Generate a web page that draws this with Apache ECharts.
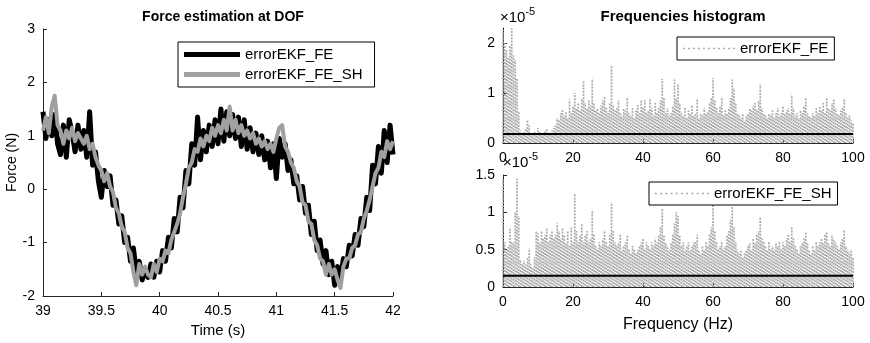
<!DOCTYPE html>
<html>
<head>
<meta charset="utf-8">
<script src="https://cdn.jsdelivr.net/npm/echarts@6/dist/echarts.min.js"></script>
<style>
  html, body { margin: 0; padding: 0; background: #fff; }
  #chart { width: 870px; height: 343px; }
</style>
</head>
<body>
<div id="chart"></div>
<script>
// left plot: force estimate, sampled every 0.025 s from 39 s
const timeStart = 39;
const timeStep = 0.025;
const forceFE = [
  1.45, 0.95, 1.3, 1.0, 1.4, 0.85, 0.65, 1.2, 0.6, 1.3,
  1.05, 0.7, 1.2, 0.75, 1.1, 0.6, 1.45, 0.45, 0.7, 0.15,
  -0.15, 0.35, 0.05, 0.25, -0.3, -0.2, -0.65, -0.5, -1.0, -0.9,
  -1.35, -1.1, -1.55, -1.35, -1.7, -1.5, -1.65, -1.4, -1.65, -1.35,
  -1.55, -1.15, -1.35, -0.9, -1.1, -0.55, -0.8, -0.15, -0.35, 0.35,
  0.1, 0.85, 0.45, 1.35, 0.55, 1.1, 0.7, 1.2, 0.8, 1.3,
  0.85, 1.5, 0.9, 1.45, 1.0, 1.4, 0.95, 1.35, 0.8, 1.3,
  0.75, 1.15, 0.7, 1.05, 0.65, 1.0, 0.55, 0.9, 0.4, 0.85,
  0.2, 0.95, 0.6, 0.85, 0.35, 0.55, 0.1, 0.25, -0.2, 0.05,
  -0.45, -0.3, -0.85, -0.6, -1.15, -0.95, -1.4, -1.15, -1.6, -1.35,
  -1.8, -1.45, -1.65, -1.3, -1.45, -1.05, -1.25, -0.85, -1.05, -0.55,
  -0.7, -0.15, -0.4, 0.45, 0.1, 0.8, 0.3, 1.1, 0.5, 1.2,
  0.65
];
const forceFESH = [
  1.1, 1.35, 1.05, 1.55, 1.75, 1.2, 1.1, 0.85, 1.1, 0.95,
  1.15, 0.9, 1.05, 0.95, 0.85, 1.0, 0.75, 0.85, 0.6, 0.45,
  0.35, 0.15, 0.3, 0.05, -0.05, -0.35, -0.45, -0.7, -0.8, -1.1,
  -1.2, -1.55, -1.8, -1.4, -1.6, -1.45, -1.6, -1.65, -1.4, -1.55,
  -1.3, -1.35, -1.15, -1.2, -0.95, -0.8, -0.65, -0.45, -0.15, 0.1,
  0.4, 0.5, 0.75, 0.7, 0.95, 0.8, 1.0, 0.9, 1.15, 1.0,
  1.2, 1.05, 1.3, 1.1, 1.55, 1.1, 1.3, 1.05, 1.2, 1.0,
  1.1, 0.95, 1.05, 0.85, 0.95, 0.8, 0.9, 0.75, 0.85, 0.7,
  0.95, 1.15, 1.2, 0.8, 0.7, 0.5, 0.4, 0.15, 0.05, -0.25,
  -0.3, -0.6, -0.65, -0.95, -1.05, -1.3, -1.35, -1.6, -1.4, -1.6,
  -1.5, -1.7, -1.85, -1.45, -1.3, -1.3, -1.1, -1.05, -0.85, -0.8,
  -0.55, -0.4, -0.2, 0.05, 0.3, 0.4, 0.7, 0.6, 0.9, 0.75,
  0.9
];

// right plots: spectrum peak per 0.5 Hz bin, in units of 1e-5
const freqStep = 0.5;
const specFE = [
  2.26, 2.0, 1.85, 1.7, 1.95, 2.3, 1.75, 1.66, 1.3, 0.63,
  0.25, 0.2, 0.22, 0.3, 0.46, 0.35, 0.2, 0.18, 0.22, 0.15,
  0.3, 0.22, 0.2, 0.18, 0.25, 0.3, 0.22, 0.2, 0.25, 0.3,
  0.35, 0.5, 0.45, 0.6, 0.66, 0.55, 0.62, 0.5, 0.87, 0.6,
  0.75, 1.0, 0.7, 0.8, 0.65, 0.9, 1.23, 0.8, 0.7, 0.85,
  0.75, 1.29, 0.8, 0.65, 0.7, 0.6, 0.75, 0.85, 0.93, 0.7,
  0.6, 0.8, 1.55, 0.75, 0.65, 0.7, 0.85, 0.6, 0.55, 0.7,
  0.65, 0.9, 0.6, 0.55, 0.7, 0.5, 0.65, 0.76, 0.6, 0.87,
  0.7, 0.86, 0.6, 0.65, 0.9, 0.7, 0.55, 0.8, 0.6, 0.7,
  0.85, 1.28, 0.9, 0.6, 0.7, 0.55, 0.6, 0.75, 1.27, 0.9,
  1.17, 0.8, 0.6, 0.55, 0.7, 0.5, 0.65, 0.6, 0.75, 0.55,
  0.6, 0.87, 0.5, 0.6, 0.55, 0.7, 0.6, 0.65, 0.8, 0.9,
  1.3, 0.85, 0.7, 0.6, 0.75, 0.9, 0.55, 0.65, 0.6, 0.7,
  0.9, 1.27, 1.1, 0.8, 0.6, 0.55, 0.5, 0.6, 0.45, 0.55,
  0.6, 0.7, 0.65, 0.75, 0.8, 0.65, 0.85, 1.17, 0.7, 0.6,
  0.55, 0.5, 0.6, 0.55, 0.65, 0.5, 0.6, 0.7, 0.55, 0.6,
  0.75, 0.6, 0.65, 0.7, 0.6, 0.97, 0.7, 0.55, 0.6, 0.5,
  0.65, 0.6, 0.75, 0.91, 0.6, 0.55, 0.5, 0.6, 0.55, 0.7,
  0.6, 0.75, 0.65, 0.8, 0.6, 0.9, 0.7, 0.65, 0.8, 0.87,
  0.7, 0.6, 0.55, 0.65, 0.7, 0.9, 0.6, 0.5, 0.55, 0.45,
  0.4
];
const specFESH = [
  1.45, 0.6, 0.5, 0.55, 0.78, 0.6, 0.6, 1.0, 1.45, 0.95,
  0.36, 0.3, 0.35, 0.3, 0.4, 0.52, 0.3, 0.25, 0.4, 0.74,
  0.72, 0.6, 0.75, 0.65, 0.7, 0.78, 0.6, 0.7, 0.75, 0.65,
  0.7, 0.85, 0.75, 0.65, 0.8, 0.7, 0.6, 0.75, 0.55, 0.8,
  0.6, 1.25, 0.75, 0.6, 0.7, 0.85, 0.6, 0.7, 0.75, 0.6,
  0.65, 1.03, 0.7, 0.55, 0.5, 0.6, 0.55, 0.65, 0.76, 0.6,
  0.55, 0.7, 1.14, 0.75, 0.6, 0.55, 0.6, 0.7, 0.5, 0.55,
  0.6, 0.7, 0.5, 0.45, 0.55, 0.5, 0.45, 0.5, 0.55, 0.6,
  0.65, 0.5, 0.6, 0.55, 0.5, 0.6, 0.55, 0.65, 0.6, 0.7,
  0.8, 1.05, 0.7, 0.6, 0.55, 0.5, 0.6, 0.7, 0.85, 1.0,
  0.95, 0.7, 0.55, 0.6, 0.5, 0.55, 0.6, 0.5, 0.55, 0.6,
  0.6, 0.7, 0.5, 0.45, 0.55, 0.5, 0.6, 0.55, 0.7, 0.8,
  1.1, 0.75, 0.6, 0.5, 0.55, 0.6, 0.5, 0.55, 0.7, 0.75,
  0.9, 1.07, 0.8, 0.6, 0.5, 0.45, 0.5, 0.4, 0.45, 0.5,
  0.55, 0.6, 0.5, 0.65, 0.6, 0.7, 0.75, 0.94, 0.65, 0.6,
  0.55, 0.5, 0.6, 0.5, 0.55, 0.5, 0.6, 0.55, 0.6, 0.5,
  0.6, 0.55, 0.65, 0.7, 0.6, 0.8, 0.65, 0.55, 0.5, 0.45,
  0.55, 0.6, 0.65, 0.74, 0.6, 0.5, 0.45, 0.55, 0.5, 0.6,
  0.55, 0.6, 0.65, 0.6, 0.7, 0.74, 0.6, 0.55, 0.7, 0.65,
  0.6, 0.55, 0.5, 0.6, 0.65, 0.76, 0.55, 0.5, 0.45, 0.5,
  0.4
];
const meanFE = 0.18;
const meanFESH = 0.15;
const freqRange = [0, 100];

const FONT = "'Liberation Sans', Arial, sans-serif";
const GRAY = "#a0a0a0";
const STEM_GRAY = "#a8a8a8";

const withTime = (arr) => arr.map((v, i) => [+(timeStart + i * timeStep).toFixed(3), v]);
const withFreq = (arr) => arr.map((v, i) => [i * freqStep, v]);

// dotted vertical stroke per bin, like matlab's ':' over a dense spectrum
function dottedStem(params, api) {
  const f = api.value(0);
  const v = api.value(1);
  const a = api.coord([f, 0]);
  const b = api.coord([f, v]);
  return {
    type: "line",
    shape: { x1: a[0], y1: a[1], x2: b[0], y2: b[1] },
    style: {
      stroke: STEM_GRAY, lineWidth: 1.7,
      lineDash: [2, 1.2], lineDashOffset: (params.dataIndex % 3),
    },
  };
}

const axisCommon = {
  axisLine: { onZero: false, lineStyle: { color: "#262626", width: 1 } },
  axisTick: { inside: true, length: 4, lineStyle: { color: "#262626" } },
  axisLabel: { color: "#000", fontSize: 14, fontFamily: FONT },
  splitLine: { show: false },
};

const dotIcon = "path://M0,0h1v1h-1zM3,0h1v1h-1zM6,0h1v1h-1zM9,0h1v1h-1zM12,0h1v1h-1zM15,0h1v1h-1zM18,0h1v1h-1zM21,0h1v1h-1zM24,0h1v1h-1zM27,0h1v1h-1zM30,0h1v1h-1z";

const chart = echarts.init(document.getElementById("chart"), null, { renderer: "canvas" });

chart.setOption({
  backgroundColor: "#fff",
  animation: false,
  textStyle: { fontFamily: FONT },
  title: [
    {
      text: "Force estimation at DOF",
      left: 218, top: 5, textAlign: "center",
      textStyle: { fontSize: 14, fontWeight: "bold", color: "#000", fontFamily: FONT },
    },
    {
      text: "Frequencies histogram",
      left: 678, top: 4, textAlign: "center",
      textStyle: { fontSize: 15, fontWeight: "bold", color: "#000", fontFamily: FONT },
    },
  ],
  legend: [
    {
      data: [
        { name: "errorEKF_FE", icon: "rect", itemStyle: { color: "#000" } },
        { name: "errorEKF_FE_SH", icon: "rect", itemStyle: { color: GRAY } },
      ],
      orient: "vertical",
      left: 178, top: 42,
      width: 190,
      padding: [5, 12, 5, 6],
      itemGap: 5,
      itemWidth: 56, itemHeight: 5,
      borderColor: "#000", borderWidth: 1,
      textStyle: { fontSize: 15, color: "#000", fontFamily: FONT },
    },
    {
      data: [{ name: "errorEKF_FE", icon: dotIcon, itemStyle: { color: GRAY } }],
      left: 677, top: 37,
      padding: [4, 6, 4, 6],
      itemWidth: 52, itemHeight: 2,
      borderColor: "#000", borderWidth: 1,
      textStyle: { fontSize: 15, color: "#000", fontFamily: FONT },
      selectedMode: false,
    },
    {
      data: [{ name: "errorEKF_FE_SH", icon: dotIcon, itemStyle: { color: GRAY } }],
      left: 649, top: 182,
      padding: [4, 6, 4, 6],
      itemWidth: 54, itemHeight: 2,
      borderColor: "#000", borderWidth: 1,
      textStyle: { fontSize: 15, color: "#000", fontFamily: FONT },
      selectedMode: false,
    },
  ],
  grid: [
    { left: 43, right: 477, top: 29, bottom: 46 },
    { left: 503, right: 17, top: 28, bottom: 200 },
    { left: 503, right: 17, top: 175, bottom: 56 },
  ],
  xAxis: [
    Object.assign({}, axisCommon, {
      gridIndex: 0, type: "value", min: 39, max: 42, interval: 0.5,
      name: "Time (s)", nameLocation: "middle", nameGap: 27,
      nameTextStyle: { fontSize: 15, color: "#000", fontFamily: FONT },
    }),
    Object.assign({}, axisCommon, {
      gridIndex: 1, type: "value", min: 0, max: 100, interval: 20,
    }),
    Object.assign({}, axisCommon, {
      gridIndex: 2, type: "value", min: 0, max: 100, interval: 20,
      name: "Frequency (Hz)", nameLocation: "middle", nameGap: 30,
      nameTextStyle: { fontSize: 16, color: "#000", fontFamily: FONT },
    }),
  ],
  yAxis: [
    Object.assign({}, axisCommon, {
      gridIndex: 0, type: "value", min: -2, max: 3, interval: 1,
      name: "Force (N)", nameLocation: "middle", nameGap: 24, nameRotate: 90,
      nameTextStyle: { fontSize: 14, color: "#000", fontFamily: FONT },
    }),
    Object.assign({}, axisCommon, {
      gridIndex: 1, type: "value", min: 0, max: 2.3, interval: 1,
      axisLabel: Object.assign({}, axisCommon.axisLabel, { showMaxLabel: false }),
    }),
    Object.assign({}, axisCommon, {
      gridIndex: 2, type: "value", min: 0, max: 1.5, interval: 0.5,
    }),
  ],
  series: [
    {
      name: "errorEKF_FE", type: "line", xAxisIndex: 0, yAxisIndex: 0,
      data: withTime(forceFE), showSymbol: false,
      lineStyle: { color: "#000", width: 5, join: "round" }, itemStyle: { color: "#000" },
    },
    {
      name: "errorEKF_FE_SH", type: "line", xAxisIndex: 0, yAxisIndex: 0,
      data: withTime(forceFESH), showSymbol: false,
      lineStyle: { color: GRAY, width: 4, join: "round" }, itemStyle: { color: GRAY },
    },
    {
      name: "errorEKF_FE", type: "custom", xAxisIndex: 1, yAxisIndex: 1,
      data: withFreq(specFE), renderItem: dottedStem, itemStyle: { color: GRAY },
    },
    {
      type: "line", xAxisIndex: 1, yAxisIndex: 1, showSymbol: false,
      data: [[freqRange[0], meanFE], [freqRange[1], meanFE]],
      lineStyle: { color: "#000", width: 2 },
    },
    {
      name: "errorEKF_FE_SH", type: "custom", xAxisIndex: 2, yAxisIndex: 2,
      data: withFreq(specFESH), renderItem: dottedStem, itemStyle: { color: GRAY },
    },
    {
      type: "line", xAxisIndex: 2, yAxisIndex: 2, showSymbol: false,
      data: [[freqRange[0], meanFESH], [freqRange[1], meanFESH]],
      lineStyle: { color: "#000", width: 2 },
    },
  ],
  graphic: [
    {
      type: "text", left: 500, top: 6,
      style: {
        text: "{b|×10}{s|-5}",
        rich: {
          b: { fontSize: 15, fontFamily: FONT, fill: "#000", verticalAlign: "bottom" },
          s: { fontSize: 11, fontFamily: FONT, fill: "#000", verticalAlign: "top", padding: [0, 0, 8, 0] },
        },
      },
    },
    {
      type: "text", left: 503, top: 151,
      style: {
        text: "{b|×10}{s|-5}",
        rich: {
          b: { fontSize: 15, fontFamily: FONT, fill: "#000", verticalAlign: "bottom" },
          s: { fontSize: 11, fontFamily: FONT, fill: "#000", verticalAlign: "top", padding: [0, 0, 8, 0] },
        },
      },
    },
  ],
});
</script>
</body>
</html>
